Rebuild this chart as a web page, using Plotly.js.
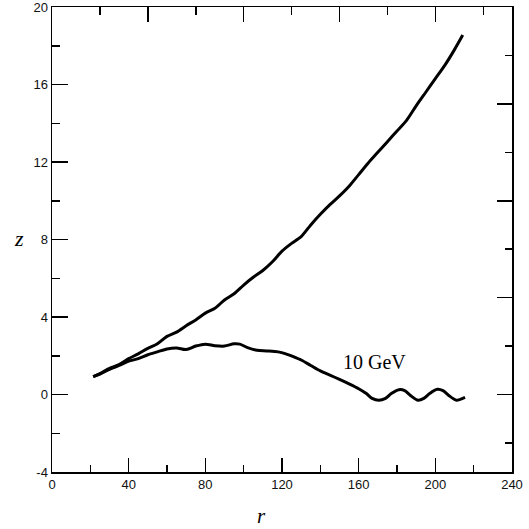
<!DOCTYPE html>
<html>
<head>
<meta charset="utf-8">
<script src="https://cdn.plot.ly/plotly-3.0.1.min.js"></script>
<style>html,body{margin:0;padding:0;background:#fff;}#chart{width:529px;height:529px;}</style>
</head>
<body>
<div id="chart"></div>
<script>
// Upper curve (r, z)
const upperR = [21.5, 25, 30, 35, 40, 45, 50, 55, 60, 65, 70, 75, 80, 85, 90, 95, 100, 105, 110, 115, 120, 125, 130, 135, 140, 145, 150, 155, 160, 165, 170, 175, 180, 185, 190, 195, 200, 205, 210, 214.3];
const upperZ = [0.92, 1.08, 1.35, 1.55, 1.85, 2.1, 2.38, 2.62, 3.0, 3.22, 3.55, 3.85, 4.2, 4.45, 4.88, 5.2, 5.65, 6.05, 6.4, 6.85, 7.4, 7.8, 8.15, 8.75, 9.3, 9.8, 10.25, 10.75, 11.35, 11.95, 12.5, 13.05, 13.6, 14.15, 14.9, 15.6, 16.3, 17.0, 17.8, 18.55];
// Lower curve, 10 GeV (r, z)
const lowerR = [21.5, 25, 30, 35, 40, 45, 50, 55, 60, 65, 70, 75, 80, 85, 90, 95, 98, 102, 107, 112, 118, 122, 126, 130, 135, 140, 145, 150, 155, 160, 164, 167, 170.5, 174, 177, 181, 184, 187, 191, 194, 197, 201, 204, 207, 211, 213, 215.5];
const lowerZ = [0.92, 1.05, 1.3, 1.5, 1.72, 1.85, 2.05, 2.2, 2.35, 2.4, 2.32, 2.5, 2.6, 2.52, 2.5, 2.62, 2.6, 2.42, 2.28, 2.25, 2.2, 2.1, 1.95, 1.78, 1.5, 1.22, 1.0, 0.78, 0.55, 0.3, 0.05, -0.2, -0.3, -0.2, 0.05, 0.25, 0.2, -0.05, -0.3, -0.2, 0.05, 0.27, 0.2, -0.05, -0.3, -0.25, -0.15];

const xTicks = [0, 40, 80, 120, 160, 200, 240];
const yTicks = [-4, 0, 4, 8, 12, 16, 20];
const energyLabel = '10 GeV';

const lineStyle = {color: '#000', width: 3, shape: 'spline', smoothing: 0.8};
const traces = [
  {x: upperR, y: upperZ, mode: 'lines', line: lineStyle, hoverinfo: 'skip', showlegend: false},
  {x: lowerR, y: lowerZ, mode: 'lines', line: lineStyle, hoverinfo: 'skip', showlegend: false},
  {x: [], y: [], xaxis: 'x2', yaxis: 'y2', mode: 'none', showlegend: false, hoverinfo: 'skip'}
];

const tickFont = {family: 'Liberation Sans, Arial, sans-serif', size: 13, color: '#111'};
const axBase = {showgrid: false, zeroline: false, showline: true, linecolor: '#000', linewidth: 1.5, ticks: 'inside', tickcolor: '#000', tickwidth: 1.5, fixedrange: true, ticklabeloverflow: 'allow'};

const layout = {
  width: 529, height: 529,
  margin: {l: 52, r: 17, t: 7, b: 57, pad: 0},
  paper_bgcolor: '#fff', plot_bgcolor: '#fff',
  xaxis: Object.assign({}, axBase, {range: [0, 240], tickmode: 'array', tickvals: xTicks, ticktext: xTicks.map(String), ticklen: 14, tickfont: tickFont,
    minor: {dtick: 20, tick0: 0, ticklen: 7, ticks: 'inside', tickcolor: '#000', tickwidth: 1.5}}),
  yaxis: Object.assign({}, axBase, {range: [-4, 20], tickmode: 'array', tickvals: yTicks, ticktext: yTicks.map(String), ticklen: 16, tickfont: tickFont,
    minor: {dtick: 2, tick0: 0, ticklen: 8, ticks: 'inside', tickcolor: '#000', tickwidth: 1.5}}),
  xaxis2: Object.assign({}, axBase, {overlaying: 'x', side: 'top', range: [0, 240], tick0: 0, dtick: 50, ticklen: 15, showticklabels: false,
    minor: {dtick: 25, tick0: 0, ticklen: 8, ticks: 'inside', tickcolor: '#000', tickwidth: 1.5}}),
  yaxis2: Object.assign({}, axBase, {overlaying: 'y', side: 'right', range: [-4, 20], tick0: 0, dtick: 5, ticklen: 15, showticklabels: false,
    minor: {dtick: 2.5, tick0: 0, ticklen: 7, ticks: 'inside', tickcolor: '#000', tickwidth: 1.5}}),
  annotations: [
    {xref: 'paper', yref: 'paper', x: 0.455, y: -0.094, xanchor: 'center', yanchor: 'middle', showarrow: false,
     text: '<i>r</i>', font: {family: 'Liberation Serif, Times New Roman, serif', size: 21, color: '#000'}},
    {xref: 'paper', yref: 'paper', x: -0.072, y: 0.503, xanchor: 'center', yanchor: 'middle', showarrow: false,
     text: '<i>z</i>', font: {family: 'Liberation Serif, Times New Roman, serif', size: 22, color: '#000'}},
    {xref: 'x', yref: 'y', x: 168.5, y: 1.68, xanchor: 'center', yanchor: 'middle', showarrow: false,
     text: energyLabel, font: {family: 'Liberation Serif, Times New Roman, serif', size: 20, color: '#000'}}
  ]
};

Plotly.newPlot('chart', traces, layout, {staticPlot: true, displayModeBar: false});
</script>
</body>
</html>
